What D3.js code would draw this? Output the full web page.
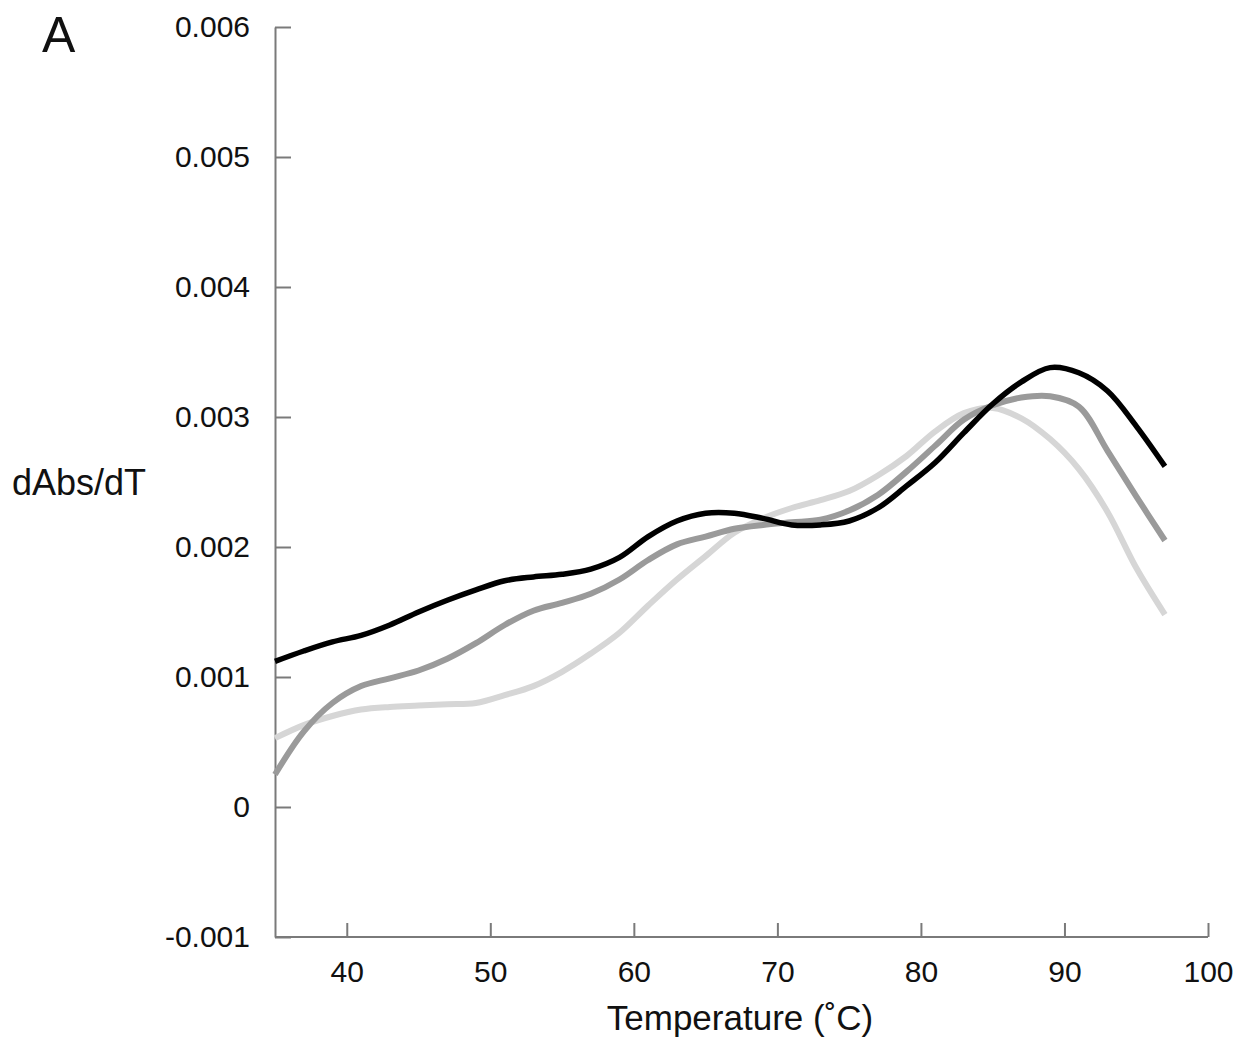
<!DOCTYPE html>
<html>
<head>
<meta charset="utf-8">
<script src="https://cdn.jsdelivr.net/npm/d3@7"></script>
<style>
  html, body { margin: 0; padding: 0; background: #fff; }
  svg { display: block; }
  text { font-family: "Liberation Sans", Arial, Helvetica, sans-serif; fill: #111; }
</style>
</head>
<body>
<svg id="chart" width="1238" height="1045"></svg>
<script>
// ---- data (values in units of 0.001 dAbs/dT) ----
const temperatures = [35,37,39,41,43,45,47,49,51,53,55,57,59,61,63,65,67,69,71,73,75,77,79,81,83,85,87,89,91,93,95,97];
const seriesBlack = [1.12,1.20,1.27,1.32,1.40,1.50,1.59,1.67,1.74,1.77,1.79,1.83,1.92,2.08,2.20,2.26,2.26,2.22,2.17,2.17,2.20,2.30,2.47,2.65,2.88,3.10,3.27,3.38,3.34,3.20,2.93,2.62];
const seriesGray  = [0.25,0.58,0.80,0.93,0.99,1.05,1.14,1.26,1.40,1.51,1.57,1.64,1.75,1.90,2.02,2.08,2.14,2.17,2.19,2.21,2.28,2.40,2.58,2.78,2.98,3.09,3.15,3.16,3.08,2.74,2.39,2.05];
const seriesLight = [0.53,0.63,0.70,0.75,0.77,0.78,0.79,0.80,0.86,0.93,1.04,1.18,1.34,1.55,1.75,1.93,2.11,2.22,2.30,2.36,2.43,2.55,2.70,2.89,3.03,3.07,2.99,2.83,2.60,2.27,1.84,1.48];
const xTicks = [40,50,60,70,80,90,100];
const yTicks = [-0.001,0,0.001,0.002,0.003,0.004,0.005,0.006];
const yTickLabels = ["-0.001","0","0.001","0.002","0.003","0.004","0.005","0.006"];
const panelLabel = "A";
const xTitle = "Temperature (\u02DAC)";
const yTitle = "dAbs/dT";

const series = [
  {name: "light", values: seriesLight, color: "#d6d6d6", width: 6},
  {name: "gray",  values: seriesGray,  color: "#9a9a9a", width: 6},
  {name: "black", values: seriesBlack, color: "#000000", width: 5.5}
];

const svg = d3.select("#chart");
const x = d3.scaleLinear().domain([35, 100]).range([275, 1208]);
const y = d3.scaleLinear().domain([-0.001, 0.006]).range([937, 27]);

// axes
const axisColor = "#7a7a7a";
const gx = svg.append("g").attr("transform", "translate(0,937)")
  .call(d3.axisBottom(x).tickValues(xTicks).tickSizeInner(-14).tickSizeOuter(0).tickPadding(24).tickFormat(d3.format("d")));
const gy = svg.append("g").attr("transform", "translate(275,0)")
  .call(d3.axisLeft(y).tickValues(yTicks).tickSizeInner(-16).tickSizeOuter(0).tickPadding(25)
    .tickFormat((d, i) => yTickLabels[i]));
[gx, gy].forEach(g => {
  g.selectAll("path.domain").attr("stroke", axisColor).attr("stroke-width", 2);
  g.selectAll(".tick line").attr("stroke", axisColor).attr("stroke-width", 2);
  g.selectAll(".tick text").style("font-size", "30px").attr("fill", "#111");
});
gx.select("path.domain").attr("d", `M${x(35)},0H${x(100)}`);

// lines
const line = d3.line()
  .x((d, i) => x(temperatures[i]))
  .y(d => y(d / 1000))
  .curve(d3.curveCatmullRom.alpha(0.5));

svg.append("g").selectAll("path.series")
  .data(series).enter().append("path")
  .attr("class", "series")
  .attr("fill", "none")
  .attr("stroke", d => d.color)
  .attr("stroke-width", d => d.width)
  .attr("stroke-linejoin", "round")
  .attr("stroke-linecap", "butt")
  .attr("d", d => line(d.values));

// titles
svg.append("text").attr("x", 12).attr("y", 495).style("font-size", "36px").text(yTitle);
svg.append("text").attr("x", 740).attr("y", 1030).attr("text-anchor", "middle").style("font-size", "35px").text(xTitle);
svg.append("text").attr("x", 42).attr("y", 52).style("font-size", "50px").text(panelLabel);
</script>
</body>
</html>
